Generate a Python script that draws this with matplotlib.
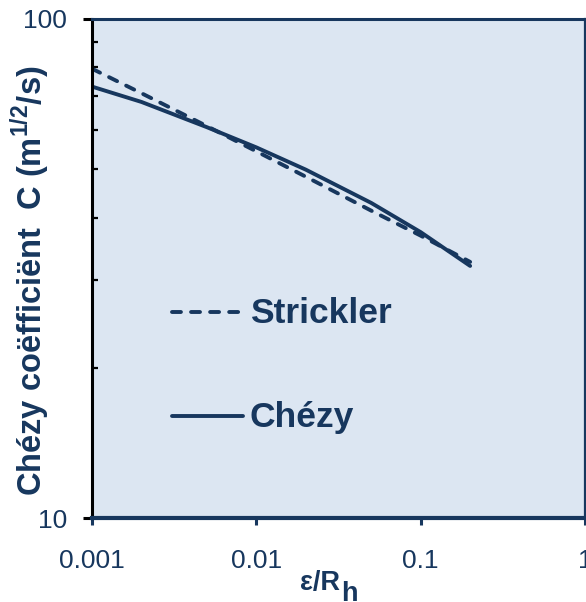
import matplotlib
matplotlib.use("Agg")
import matplotlib.pyplot as plt
from matplotlib.ticker import FixedLocator, NullLocator, LogLocator, NullFormatter

# relative roughness eps/R_h
rel_rough = [0.001, 0.002, 0.005, 0.01, 0.02, 0.05, 0.1, 0.2]
# Chezy coefficient C (m^1/2/s)
c_strickler = [79.5, 71.0, 61.0, 54.3, 48.3, 41.3, 36.8, 32.6]
c_chezy = [73.2, 68.2, 60.7, 55.3, 49.9, 42.8, 37.4, 32.0]

x_ticks = [0.001, 0.01, 0.1, 1]
x_ticklabels = ["0.001", "0.01", "0.1", "1"]
y_ticks = [10, 100]
y_ticklabels = ["10", "100"]

NAVY = "#17375E"
BG = "#DCE6F2"
DASH = (0, (2.3, 2.6))

plt.rcParams["font.family"] = ["Liberation Sans", "DejaVu Sans"]
plt.rcParams["mathtext.fontset"] = "custom"
plt.rcParams["mathtext.rm"] = "Liberation Sans:bold"
plt.rcParams["mathtext.bf"] = "Liberation Sans:bold"

W, H = 586, 602
fig = plt.figure(figsize=(W / 100, H / 100), dpi=100)
ax = fig.add_axes([92 / W, 84 / H, 493 / W, 499 / H])
ax.set_facecolor(BG)

ax.plot(rel_rough, c_strickler, color=NAVY, lw=2.8, ls=DASH,
        dash_capstyle="round", solid_capstyle="round")
ax.plot(rel_rough, c_chezy, color=NAVY, lw=2.8, solid_capstyle="round")

ax.set_xscale("log")
ax.set_yscale("log")
ax.set_xlim(0.001, 1)
ax.set_ylim(10, 100)

ax.xaxis.set_major_locator(FixedLocator(x_ticks))
ax.xaxis.set_minor_locator(NullLocator())
ax.set_xticklabels(x_ticklabels)
ax.yaxis.set_major_locator(FixedLocator(y_ticks))
ax.yaxis.set_minor_locator(LogLocator(base=10, subs=range(2, 10)))
ax.yaxis.set_minor_formatter(NullFormatter())
ax.set_yticklabels(y_ticklabels)

ax.tick_params(axis="x", which="major", direction="out", length=5, width=2.2,
               color=NAVY, labelcolor=NAVY, labelsize=19, pad=17)
ax.tick_params(axis="y", which="major", direction="out", length=6.5, width=2.2,
               color="black", labelcolor=NAVY, labelsize=19, pad=11.5)
ax.tick_params(axis="y", which="minor", direction="in", length=4, width=1.6,
               color="black")

ax.spines["left"].set_color("black")
ax.spines["left"].set_linewidth(2.2)
ax.spines["bottom"].set_color(NAVY)
ax.spines["bottom"].set_linewidth(3)
ax.spines["top"].set_color(NAVY)
ax.spines["top"].set_linewidth(2.2)
ax.spines["right"].set_color(NAVY)
ax.spines["right"].set_linewidth(1.6)

# axis titles
fig.text(340 / W, (H - 590) / H, "ε/R", color=NAVY, fontsize=19.5,
         fontweight="bold", ha="right", va="baseline")
fig.text(341 / W, (H - 601) / H, "h", color=NAVY, fontsize=19.5,
         fontweight="bold", ha="left", va="baseline")
fig.text(42 / W, (H - 281) / H, r"Chézy coëfficiënt  C (m$^{1/2}$/s)",
         color=NAVY, fontsize=23.5, fontweight="bold", rotation=90,
         rotation_mode="anchor", ha="center", va="baseline")

# in-plot legend
ax.plot([0.00307, 0.0083], [25.9, 25.9], color=NAVY, lw=2.8, ls=DASH,
        dash_capstyle="round")
ax.text(0.00914, 24.6, "Strickler", color=NAVY, fontsize=25.5,
        fontweight="bold", va="baseline", ha="left")
ax.plot([0.00307, 0.0083], [16.0, 16.0], color=NAVY, lw=2.8,
        solid_capstyle="round")
ax.text(0.00914, 15.22, "Chézy", color=NAVY, fontsize=25.5,
        fontweight="bold", va="baseline", ha="left")

fig.savefig("out.png", dpi=100)
